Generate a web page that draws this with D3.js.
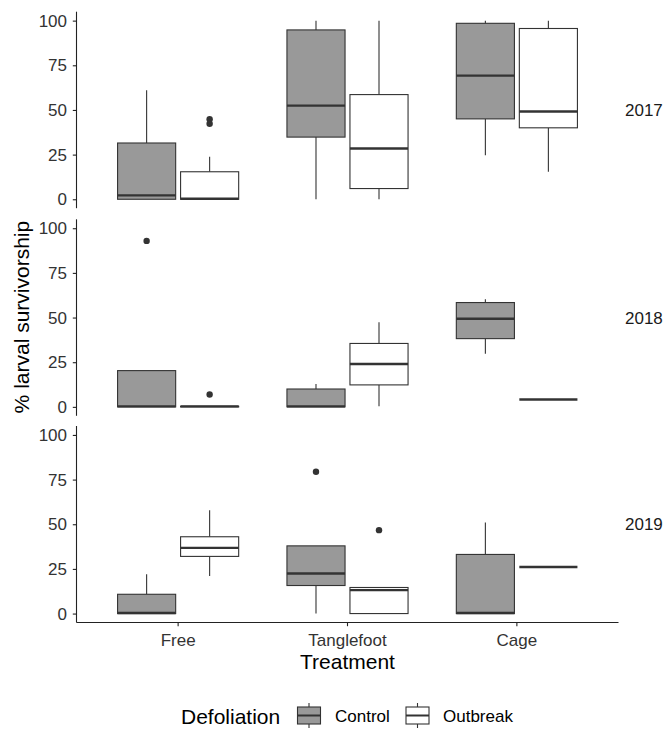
<!DOCTYPE html>
<html>
<head>
<meta charset="utf-8">
<script src="https://cdn.jsdelivr.net/npm/d3@7"></script>
<style>
  html, body { margin: 0; padding: 0; background: #fff; }
  svg { display: block; font-family: "Liberation Sans", Arial, Helvetica, sans-serif; }
</style>
</head>
<body>
<svg id="chart" width="669" height="730"></svg>
<script>
// Larval survivorship by treatment, defoliation level and year
const years = ["2017", "2018", "2019"];
const treatments = ["Free", "Tanglefoot", "Cage"];
const groups = ["Control", "Outbreak"];
const yTicks = [0, 25, 50, 75, 100];

// Box summaries [lower whisker, Q1, median, Q3, upper whisker],
// ordered Free/Control, Free/Outbreak, Tanglefoot/Control, Tanglefoot/Outbreak, Cage/Control, Cage/Outbreak
const stats2017 = [
  [0, 0, 2.2, 31.5, 61],
  [0, 0, 0.3, 15.4, 23.8],
  [0, 34.8, 52.4, 94.8, 100],
  [0, 6, 28.4, 58.6, 100],
  [24.7, 45, 69.2, 98.5, 100],
  [15.4, 40, 49.1, 95.6, 100]
];
const stats2018 = [
  [0, 0, 0.3, 20.3, 20.3],
  [0, 0, 0.3, 0.3, 0.3],
  [0, 0, 0.3, 10, 12.8],
  [0.3, 12.3, 24, 35.5, 47.3],
  [29.8, 38.2, 49.3, 58.4, 60.3],
  [4.1, 4.1, 4.1, 4.1, 4.1]
];
const stats2019 = [
  [0, 0, 0.3, 10.8, 22],
  [21.1, 32, 36.8, 43, 57.9],
  [0, 15.7, 22.4, 37.9, 37.9],
  [0, 0, 13.1, 14.6, 14.6],
  [0, 0, 0.3, 33.1, 51],
  [26.1, 26.1, 26.1, 26.1, 26.1]
];
// Outlying points, same ordering
const outliers2017 = [[], [44.8, 42.3], [], [], [], []];
const outliers2018 = [[92.9], [6.9], [], [], [], []];
const outliers2019 = [[], [], [79.4], [46.7], [], []];

const statsByYear = [stats2017, stats2018, stats2019];
const outliersByYear = [outliers2017, outliers2018, outliers2019];
const fills = { Control: "#999999", Outbreak: "#ffffff" };

const svg = d3.select("#chart");
const stroke = "#333333";
const axisColor = "#222222";
const textColor = "#333333";

const left = 76.5, right = 618.5;
const panelTops = [11.7, 219.3, 426];
const panelH = 196.5;

// discrete x positions: categories 0.6 step in from each panel edge
const x = d3.scalePoint().domain(treatments).range([left, right]).padding(0.6);
const step = x.step();
const dodge = d3.scalePoint().domain(groups).range([-0.186 * step, 0.186 * step]);
const boxW = 0.343 * step;

years.forEach((yr, i) => {
  const top = panelTops[i];
  const y = d3.scaleLinear().domain([-5, 105]).range([top + panelH, top]);
  const g = svg.append("g");

  // y axis
  const yAxis = d3.axisLeft(y).tickValues(yTicks).tickSize(3.7).tickPadding(5.8);
  const ya = g.append("g").attr("transform", `translate(${left},0)`).call(yAxis);
  ya.select(".domain").attr("stroke", axisColor).attr("stroke-width", 1.1)
    .attr("d", `M0,${top}V${top + panelH}`);
  ya.selectAll(".tick line").attr("stroke", axisColor).attr("stroke-width", 1.1);
  ya.selectAll(".tick text").attr("fill", textColor).attr("font-size", 17)
    .attr("font-family", "Liberation Sans, Arial, sans-serif");

  // boxes
  const stats = statsByYear[i];
  const outs = outliersByYear[i];
  treatments.forEach((t, ti) => {
    groups.forEach((grp, gi) => {
      const k = ti * 2 + gi;
      const s = stats[k];
      const cx = x(t) + dodge(grp);
      const bg = g.append("g");
      // whiskers
      bg.append("line").attr("x1", cx).attr("x2", cx).attr("y1", y(s[3])).attr("y2", y(s[4]))
        .attr("stroke", stroke).attr("stroke-width", 1.1);
      bg.append("line").attr("x1", cx).attr("x2", cx).attr("y1", y(s[0])).attr("y2", y(s[1]))
        .attr("stroke", stroke).attr("stroke-width", 1.1);
      // box
      bg.append("rect").attr("x", cx - boxW / 2).attr("width", boxW)
        .attr("y", y(s[3])).attr("height", Math.max(0, y(s[1]) - y(s[3])))
        .attr("fill", fills[grp]).attr("stroke", stroke).attr("stroke-width", 1.1);
      // median
      bg.append("line").attr("x1", cx - boxW / 2).attr("x2", cx + boxW / 2)
        .attr("y1", y(s[2])).attr("y2", y(s[2]))
        .attr("stroke", stroke).attr("stroke-width", 2.4);
      // outliers
      outs[k].forEach(v => {
        bg.append("circle").attr("cx", cx).attr("cy", y(v)).attr("r", 3.2).attr("fill", stroke);
      });
    });
  });

  // facet strip label
  svg.append("text").attr("x", 625).attr("y", top + panelH / 2).attr("dy", "0.36em")
    .attr("font-size", 17).attr("fill", "#1a1a1a").text(yr);
});

// x axis on the bottom panel
const bottom = panelTops[2] + panelH;
svg.append("line").attr("x1", left).attr("x2", right).attr("y1", bottom).attr("y2", bottom)
  .attr("stroke", axisColor).attr("stroke-width", 1.1);
treatments.forEach(t => {
  const cx = x(t);
  svg.append("line").attr("x1", cx).attr("x2", cx).attr("y1", bottom).attr("y2", bottom + 3.7)
    .attr("stroke", axisColor).attr("stroke-width", 1.1);
  svg.append("text").attr("x", cx).attr("y", bottom + 23.5).attr("text-anchor", "middle")
    .attr("font-size", 17).attr("fill", textColor).text(t);
});

// axis titles
svg.append("text").attr("x", (left + right) / 2).attr("y", 668.5).attr("text-anchor", "middle")
  .attr("font-size", 21).attr("fill", "#000").text("Treatment");
svg.append("text").attr("transform", `translate(29,${(panelTops[0] + bottom) / 2}) rotate(-90)`)
  .attr("text-anchor", "middle").attr("font-size", 21).attr("fill", "#000")
  .text("% larval survivorship");

// legend
const lg = svg.append("g");
lg.append("text").attr("x", 181).attr("y", 723.5).attr("font-size", 21).attr("fill", "#000").text("Defoliation");
const keyX = [296.5, 405];
const labX = [335, 443];
groups.forEach((grp, i) => {
  const kx = keyX[i], ky = 703, ks = 25;
  const cx = kx + ks / 2;
  lg.append("line").attr("x1", cx).attr("x2", cx).attr("y1", ky).attr("y2", ky + ks)
    .attr("stroke", stroke).attr("stroke-width", 1.1);
  lg.append("rect").attr("x", kx + 1).attr("y", ky + 4).attr("width", ks - 2).attr("height", ks - 8)
    .attr("fill", fills[grp]).attr("stroke", stroke).attr("stroke-width", 1.1);
  lg.append("line").attr("x1", kx + 1).attr("x2", kx + ks - 1).attr("y1", ky + ks / 2).attr("y2", ky + ks / 2)
    .attr("stroke", stroke).attr("stroke-width", 2);
  lg.append("text").attr("x", labX[i]).attr("y", 722).attr("font-size", 17).attr("fill", "#000").text(grp);
});
</script>
</body>
</html>
